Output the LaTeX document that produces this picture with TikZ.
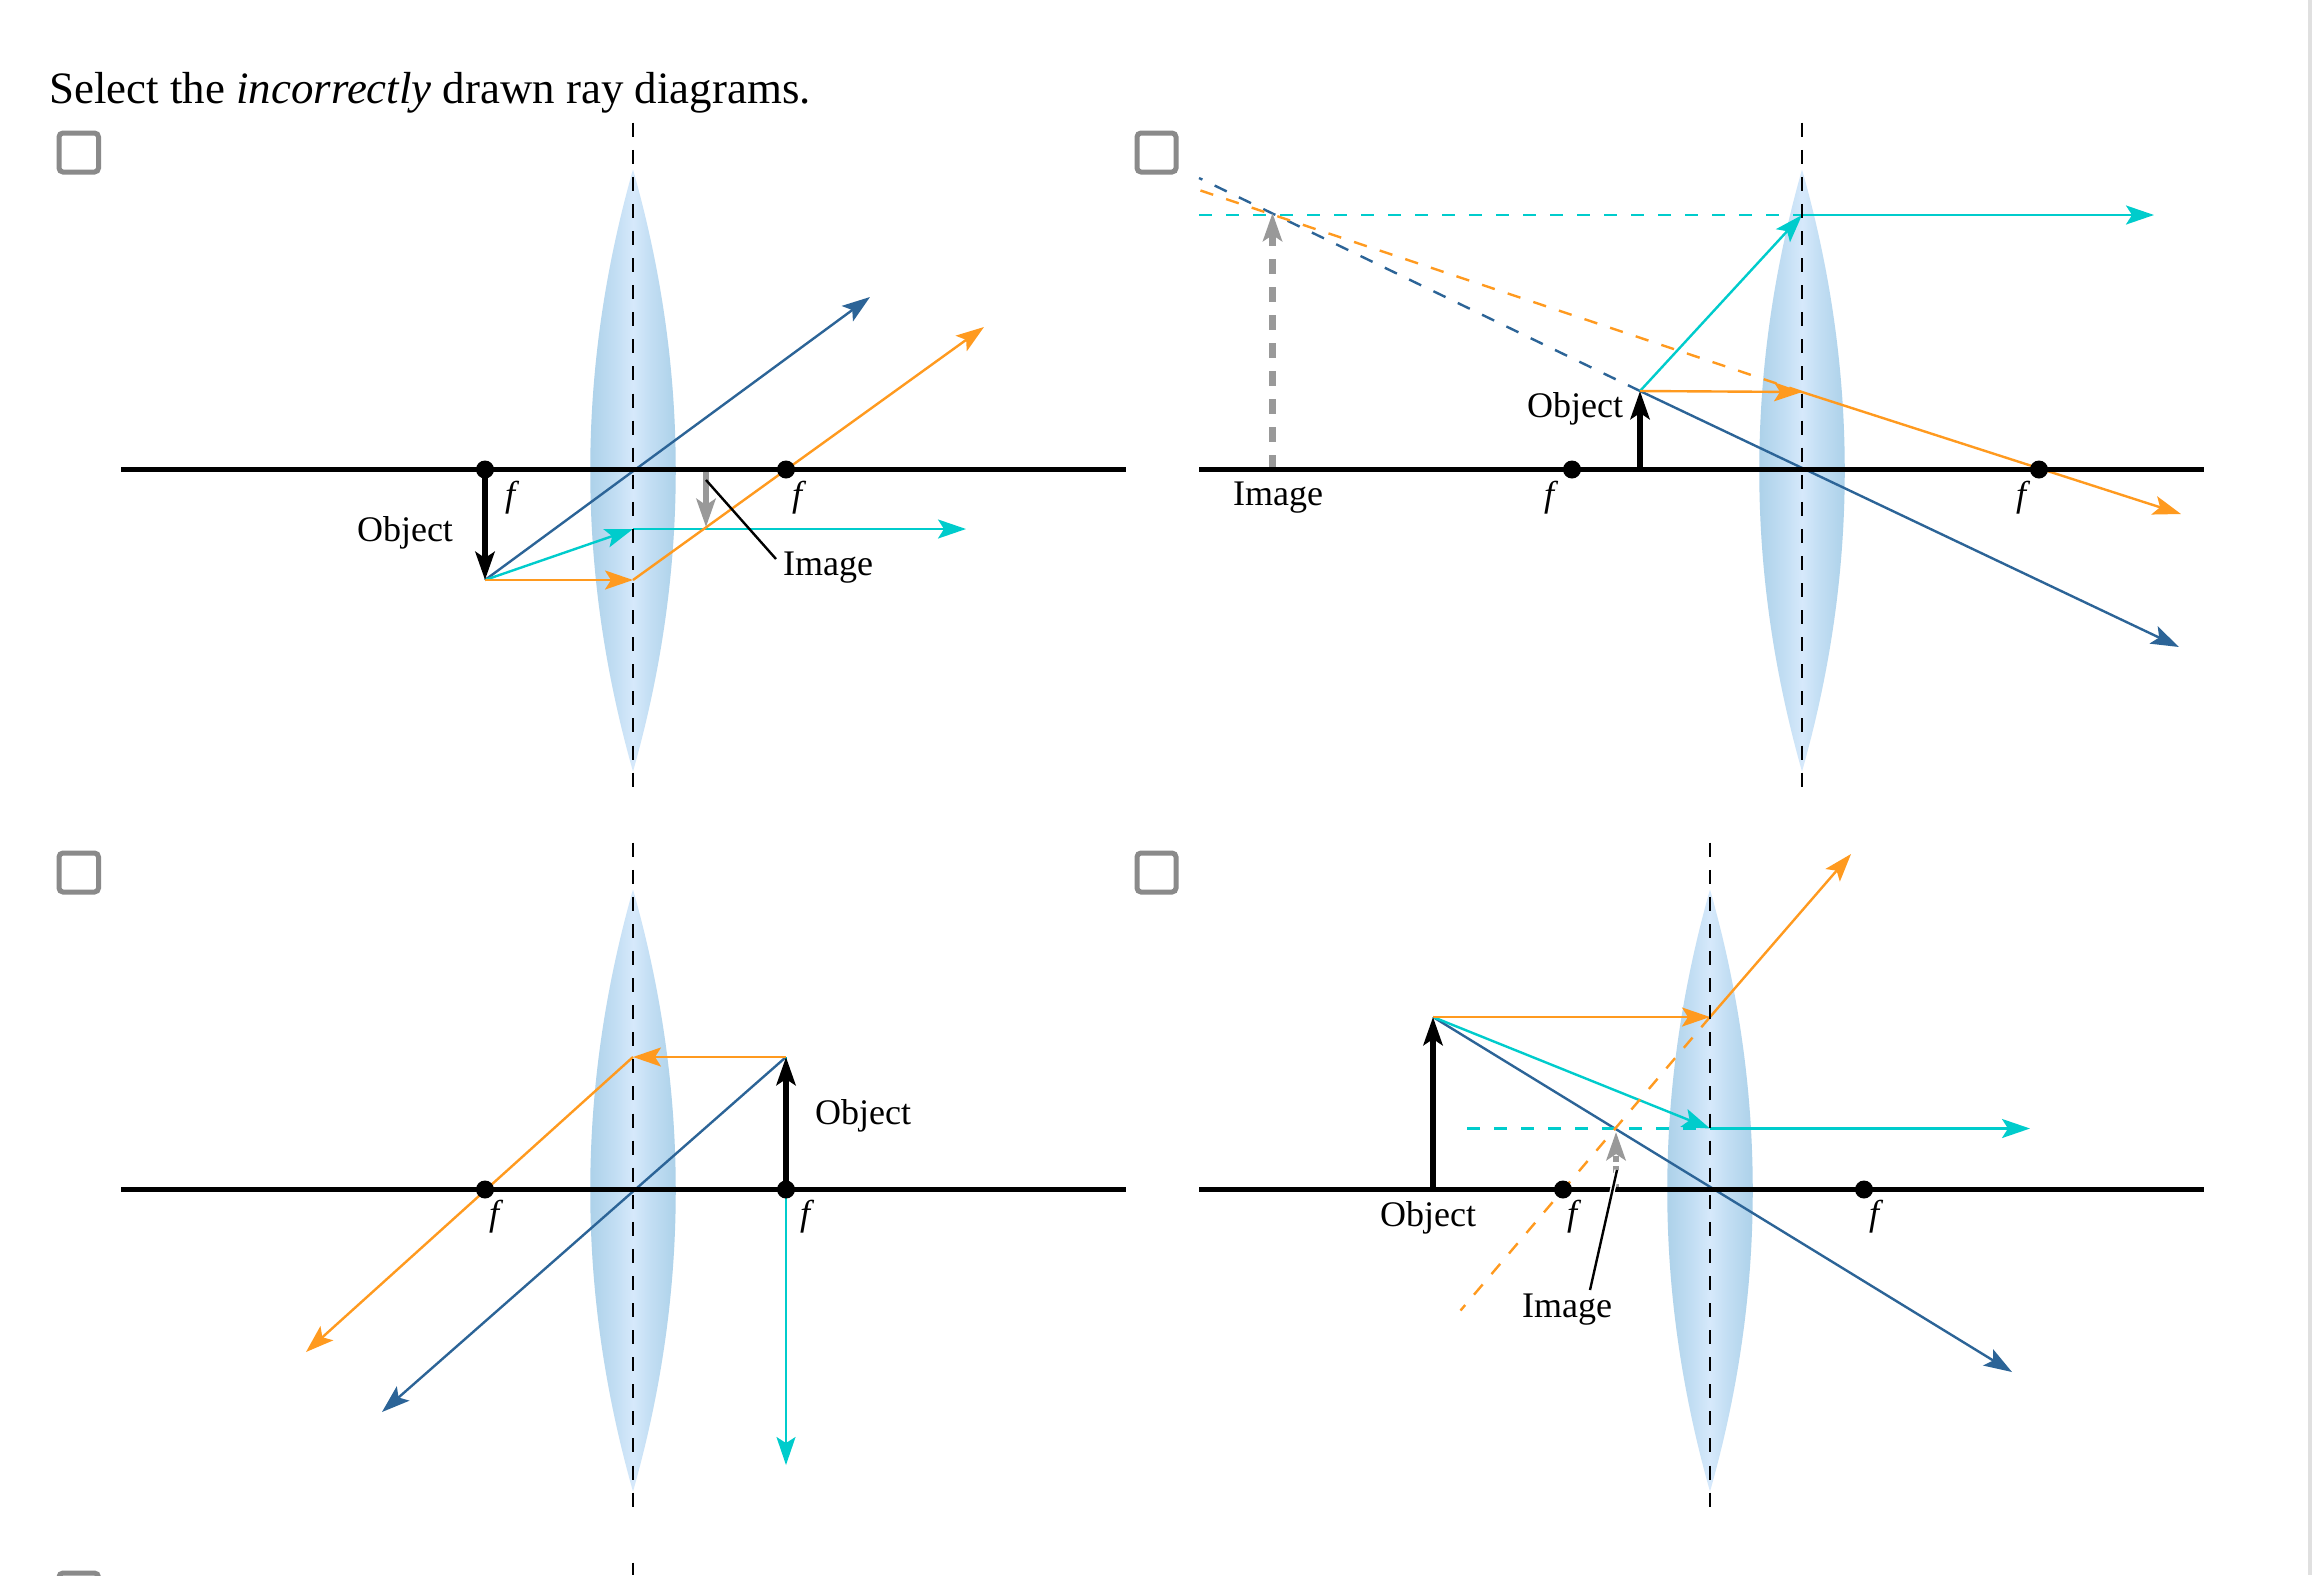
\documentclass[tikz,border=0pt]{standalone}
\usepackage{fontspec}
\setmainfont{Liberation Serif}
\usetikzlibrary{arrows.meta}
\definecolor{rayorange}{HTML}{FF9A1F}
\definecolor{rayblue}{HTML}{2C6497}
\definecolor{raycyan}{HTML}{00CCCC}
\definecolor{imggray}{HTML}{999999}
\definecolor{boxgray}{HTML}{8A8A8A}
\definecolor{lensedge}{HTML}{AED2EA}
\definecolor{lensmid}{HTML}{C4DFF4}
\definecolor{lenscore}{HTML}{D6E9FB}
\pgfdeclarehorizontalshading{lensshade}{100bp}{color(0bp)=(lensedge); color(32bp)=(lensedge);
  color(43bp)=(lensmid); color(50bp)=(lenscore); color(57bp)=(lensmid);
  color(68bp)=(lensedge); color(100bp)=(lensedge)}
\newcommand{\lensat}[2]{\shade[shading=lensshade]
  (#1,#2-301) .. controls (#1+57,#2-100) and (#1+57,#2+100) .. (#1,#2+301)
  .. controls (#1-57,#2+100) and (#1-57,#2-100) .. cycle;}

\begin{document}
\begin{tikzpicture}[x=0.5pt,y=-0.5pt,
    >={Stealth[length=14pt,width=9.5pt,inset=3pt]},
    ray/.style={line width=1.2pt},
    rayo/.style={ray,rayorange},
    rayb/.style={ray,rayblue},
    rayc/.style={ray,raycyan},
    virt/.style={dash pattern=on 6.7pt off 6.8pt},
    axisline/.style={line width=2.4pt},
    midline/.style={line width=1.15pt,dash pattern=on 7pt off 6.54pt},
    objarrow/.style={->,line width=3.2pt},
    imgarrow/.style={->,line width=3.2pt,imggray},
    leader/.style={line width=1.2pt},
    fdot/.style={circle,fill,minimum size=9pt,inner sep=0pt},
    lbl/.style={font=\fontsize{18}{20}\selectfont,anchor=base,inner sep=0pt},
    flbl/.style={lbl,font=\fontsize{18}{20}\selectfont\itshape},
    checkbox/.style={draw=boxgray,line width=2.5pt,rounded corners=2pt}]
    \useasboundingbox (0,0) rectangle (2312,1575);
    \fill[white] (0,0) rectangle (2312,1575);
    \fill[black!12] (2308,0) rectangle (2312,1575);

    \node[anchor=base west,inner sep=0pt,font=\fontsize{22.45}{26}\selectfont] (title) at (49,103)
      {Select the \textit{incorrectly} drawn ray diagrams.};

    \draw[checkbox] (59,133) rectangle (98.5,172);
    \draw[checkbox] (1137,133) rectangle (1176,172);
    \draw[checkbox] (59,853) rectangle (98.5,892);
    \draw[checkbox] (1137,853) rectangle (1176,892);
    \draw[checkbox] (59,1573) rectangle (98.5,1612);

    \lensat{633}{470.5}
    \lensat{1802}{470.5}
    \lensat{633}{1190.5}
    \lensat{1710}{1190.5}

    % top left
    \coordinate (axl_a) at (121,469.5);
    \coordinate (axr_a) at (1126,469.5);
    \coordinate (mid_a) at (633,469.5);
    \coordinate (top_a) at (633,122.7);
    \coordinate (bot_a) at (633,787);
    \coordinate (obj_a) at (485,580);
    \coordinate (obf_a) at (485,469.5);
    \coordinate (lc_a) at (633,529);
    \coordinate (lo_a) at (633,580);
    \coordinate (endb_a) at (870,297);
    \coordinate (endc_a) at (966,529);
    \coordinate (endo_a) at (984,327);
    \coordinate (imf_a) at (706,469.5);
    \coordinate (img_a) at (706,527);
    \coordinate (ldr_a) at (706,480);
    \coordinate (lde_a) at (776,559);
    \draw[rayb,->] (obj_a) -- (endb_a);
    \draw[rayc,->] (obj_a) -- (lc_a);
    \draw[rayc,->] (lc_a) -- (endc_a);
    \draw[rayo,->] (obj_a) -- (lo_a);
    \draw[rayo,->] (lo_a) -- (endo_a);
    \draw[imgarrow] (imf_a) -- (img_a);
    \draw[axisline] (axl_a) -- (axr_a);
    \draw[midline] (top_a) -- (bot_a);
    \draw[objarrow] (obf_a) -- (obj_a);
    \draw[leader] (ldr_a) -- (lde_a);
    \node[fdot] (f1_a) at (485,469.5) {};
    \node[fdot] (f2_a) at (786,469.5) {};
    \node[flbl] (fl1_a) at (510,506) {f};
    \node[flbl] (fl2_a) at (797,506) {f};
    \node[lbl] (objl_a) at (405,541) {Object};
    \node[lbl] (imgl_a) at (828,575.5) {Image};

    % top right
    \coordinate (axl_b) at (1199,469.5);
    \coordinate (axr_b) at (2204,469.5);
    \coordinate (mid_b) at (1802,469.5);
    \coordinate (top_b) at (1802,122.7);
    \coordinate (bot_b) at (1802,787);
    \coordinate (obj_b) at (1640,391);
    \coordinate (obf_b) at (1640,469.5);
    \coordinate (lc_b) at (1802,215);
    \coordinate (lo_b) at (1802,392);
    \coordinate (endb_b) at (2179,647);
    \coordinate (endc_b) at (2154,215);
    \coordinate (endo_b) at (2181,514);
    \coordinate (vb_b) at (1199,178);
    \coordinate (vc_b) at (1199,215);
    \coordinate (vo_b) at (1199,190);
    \coordinate (imf_b) at (1272.5,469.5);
    \coordinate (img_b) at (1272.5,213);
    \draw[rayb,->] (obj_b) -- (endb_b);
    \draw[rayb,virt] (obj_b) -- (vb_b);
    \draw[rayc,->] (obj_b) -- (lc_b);
    \draw[rayc,->] (lc_b) -- (endc_b);
    \draw[rayc,virt] (vc_b) -- (lc_b);
    \draw[rayo,->] (obj_b) -- (lo_b);
    \draw[rayo,->] (lo_b) -- (endo_b);
    \draw[rayo,virt] (lo_b) -- (vo_b);
    \draw[imgarrow,dash pattern=on 7.5pt off 6.5pt] (imf_b) -- (img_b);
    \draw[axisline] (axl_b) -- (axr_b);
    \draw[midline] (top_b) -- (bot_b);
    \draw[objarrow] (obf_b) -- (obj_b);
    \node[fdot] (f1_b) at (1572,469.5) {};
    \node[fdot] (f2_b) at (2039,469.5) {};
    \node[flbl] (fl1_b) at (1549,506) {f};
    \node[flbl] (fl2_b) at (2021,506) {f};
    \node[lbl] (objl_b) at (1575,417) {Object};
    \node[lbl] (imgl_b) at (1278,505) {Image};

    % bottom left
    \coordinate (axl_c) at (121,1189.5);
    \coordinate (axr_c) at (1126,1189.5);
    \coordinate (top_c) at (633,842.7);
    \coordinate (bot_c) at (633,1507);
    \coordinate (obj_c) at (786,1057);
    \coordinate (obf_c) at (786,1189.5);
    \coordinate (lo_c) at (633,1057);
    \coordinate (endb_c) at (382,1412);
    \coordinate (endc_c) at (786,1465);
    \coordinate (endo_c) at (306,1352);
    \draw[rayb,->] (obj_c) -- (endb_c);
    \draw[rayc,->,line width=1pt] (obj_c) -- (endc_c);
    \draw[rayo,->] (obj_c) -- (lo_c);
    \draw[rayo,->] (lo_c) -- (endo_c);
    \draw[axisline] (axl_c) -- (axr_c);
    \draw[midline] (top_c) -- (bot_c);
    \draw[objarrow] (obf_c) -- (obj_c);
    \node[fdot] (f1_c) at (485,1189.5) {};
    \node[fdot] (f2_c) at (786,1189.5) {};
    \node[flbl] (fl1_c) at (494,1225) {f};
    \node[flbl] (fl2_c) at (805,1225) {f};
    \node[lbl] (objl_c) at (863,1124) {Object};

    % bottom right
    \coordinate (axl_d) at (1199,1189.5);
    \coordinate (axr_d) at (2204,1189.5);
    \coordinate (top_d) at (1710,842.7);
    \coordinate (bot_d) at (1710,1507);
    \coordinate (obj_d) at (1433,1017);
    \coordinate (obf_d) at (1433,1189.5);
    \coordinate (lc_d) at (1710,1128.5);
    \coordinate (lo_d) at (1710,1017);
    \coordinate (endb_d) at (2012,1372);
    \coordinate (endc_d) at (2030,1128.5);
    \coordinate (endo_d) at (1851,854);
    \coordinate (vc_d) at (1467,1128.5);
    \coordinate (vo_d) at (1460.5,1310.5);
    \coordinate (imf_d) at (1616,1189.5);
    \coordinate (img_d) at (1616,1132);
    \coordinate (ldr_d) at (1617,1170);
    \coordinate (lde_d) at (1590,1290);
    \draw[rayb,->] (obj_d) -- (endb_d);
    \draw[rayc,->] (obj_d) -- (lc_d);
    \draw[rayc,->] (lc_d) -- (endc_d);
    \draw[rayc,virt] (vc_d) -- (lc_d);
    \draw[rayo,->] (obj_d) -- (lo_d);
    \draw[rayo,->] (lo_d) -- (endo_d);
    \draw[rayo,virt] (lo_d) -- (vo_d);
    \draw[imgarrow,dash pattern=on 3pt off 5.5pt on 3.5pt off 2pt] (imf_d) -- (img_d);
    \draw[axisline] (axl_d) -- (axr_d);
    \draw[midline] (top_d) -- (bot_d);
    \draw[objarrow] (obf_d) -- (obj_d);
    \draw[white,line width=2.6pt] (ldr_d) -- (lde_d);
    \draw[leader] (ldr_d) -- (lde_d);
    \node[fdot] (f1_d) at (1563,1189.5) {};
    \node[fdot] (f2_d) at (1864,1189.5) {};
    \node[flbl] (fl1_d) at (1572,1225) {f};
    \node[flbl] (fl2_d) at (1874,1225) {f};
    \node[lbl] (objl_d) at (1428,1226) {Object};
    \node[lbl] (imgl_d) at (1567,1317) {Image};

    % next row, cut off by the page
    \coordinate (top_e) at (633,1562.7);
    \coordinate (bot_e) at (633,1575);
    \draw[line width=1.15pt] (top_e) -- (bot_e);
\end{tikzpicture}
\end{document}
